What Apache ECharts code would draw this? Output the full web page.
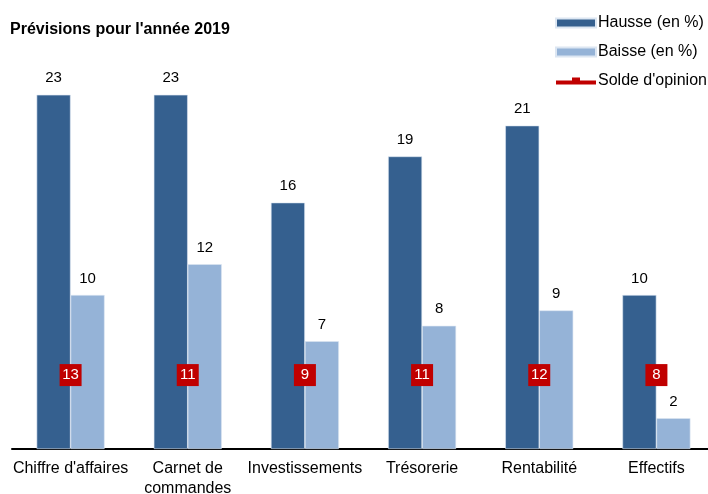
<!DOCTYPE html>
<html>
<head>
<meta charset="utf-8">
<script src="https://cdn.jsdelivr.net/npm/echarts@6/dist/echarts.min.js"></script>
<style>
  html, body { margin: 0; padding: 0; background: #fff; }
  #chart { width: 708px; height: 494px; }
</style>
</head>
<body>
<div id="chart"></div>
<script>
const categories = ["Chiffre d'affaires", 'Carnet de\ncommandes', 'Investissements', 'Trésorerie', 'Rentabilité', 'Effectifs'];
const hausse = [23, 23, 16, 19, 21, 10];
const baisse = [10, 12, 7, 8, 9, 2];
const solde = [13, 11, 9, 11, 12, 8];

// the opinion balance is shown as labels at a fixed height
const soldeLabelLevel = 4.8;

const chart = echarts.init(document.getElementById('chart'));
const font = 'Liberation Sans, Arial, sans-serif';

chart.setOption({
  animation: false,
  textStyle: { fontFamily: font },
  title: {
    text: "Prévisions pour l'année 2019",
    left: 5,
    top: 17,
    textStyle: { fontSize: 16, fontWeight: 'bold', color: '#000', fontFamily: font, letterSpacing: -0.3 }
  },
  legend: {
    orient: 'vertical',
    left: 550,
    top: 10,
    itemWidth: 40,
    itemHeight: 9,
    itemGap: 13,
    textStyle: { fontSize: 16, color: '#000', fontFamily: font, padding: [0, 0, 0, -3] },
    data: [
      { name: 'Hausse (en %)', icon: 'rect' },
      { name: 'Baisse (en %)', icon: 'rect' },
      { name: "Solde d'opinion", icon: 'path://M0,5 L16,5 L16,2 L24,2 L24,5 L40,5 L40,9 L0,9 Z', itemStyle: { color: '#C00000' } }
    ]
  },
  grid: { left: 12, width: 703, top: 64, bottom: 45, outerBoundsMode: 'none', containLabel: false },
  xAxis: {
    type: 'category',
    data: categories,
    axisLine: { lineStyle: { color: '#000', width: 2 } },
    axisTick: { show: false },
    axisLabel: { fontSize: 16, color: '#000', fontFamily: font, margin: 10, interval: 0, lineHeight: 20 }
  },
  yAxis: {
    type: 'value',
    min: 0,
    max: 25,
    show: false,
    splitLine: { show: false }
  },
  series: [
    {
      name: 'Hausse (en %)',
      type: 'bar',
      data: hausse,
      barWidth: 34,
      barGap: '0%',
      itemStyle: { color: '#35608F', borderColor: '#DCE6F2', borderWidth: 0.6 },
      label: { show: true, position: 'top', fontSize: 15, color: '#000', distance: 9 }
    },
    {
      name: 'Baisse (en %)',
      type: 'bar',
      data: baisse,
      barWidth: 34,
      itemStyle: { color: '#95B3D7', borderColor: '#DCE6F2', borderWidth: 0.6 },
      label: { show: true, position: 'top', fontSize: 15, color: '#000', distance: 9 }
    },
    {
      name: "Solde d'opinion",
      type: 'line',
      data: solde.map(() => soldeLabelLevel),
      symbol: 'rect',
      symbolSize: 1,
      showSymbol: true,
      lineStyle: { opacity: 0 },
      itemStyle: { color: '#C00000' },
      z: 5,
      label: {
        show: true,
        position: 'inside',
        formatter: p => String(solde[p.dataIndex]),
        fontSize: 15,
        color: '#fff',
        backgroundColor: '#C00000',
        width: 22,
        height: 22,
        lineHeight: 22,
        align: 'center',
        verticalAlign: 'middle'
      }
    }
  ]
});
</script>
</body>
</html>
